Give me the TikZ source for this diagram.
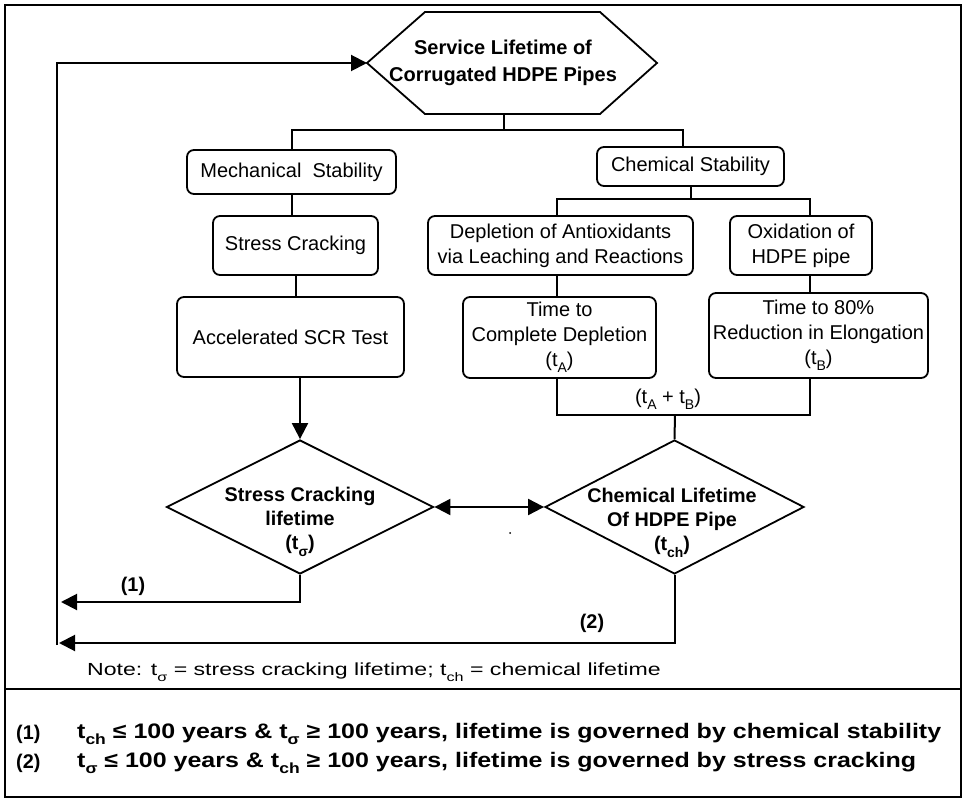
\documentclass[tikz,border=0pt]{standalone}
\usepackage{fontspec}
\setmainfont{Liberation Sans}
\usetikzlibrary{arrows.meta,shapes.geometric}
\newcommand{\tsub}[1]{\raisebox{-0.32em}{\scalebox{0.7}{#1}}}

\begin{document}
\begin{tikzpicture}[x=1pt,y=-1pt]
        \tikzstyle{box}=[draw, rounded corners=7pt, line width=1.8pt, align=center, inner sep=0pt, font=\fontsize{20}{25}\selectfont]
        \tikzstyle{dia}=[diamond, draw, line width=1.8pt, inner sep=0pt]
        \tikzstyle{bold}=[align=center, inner sep=0pt, font=\fontsize{19.8}{24}\selectfont\bfseries]
        \tikzstyle{plain}=[align=center, inner sep=0pt, font=\fontsize{20}{25}\selectfont]
        \tikzstyle{link}=[line width=2pt]
        \tikzstyle{arr}=[line width=2pt, -{Triangle[length=16pt,width=16pt]}]

            \useasboundingbox (0,0) rectangle (967,799);
            \draw[line width=2.2pt] (5,5) rectangle (961,797);
            \draw[line width=2.2pt] (5,689) -- (961,689);

            % top of the chart
            \coordinate (hexL) at (367,63);
            \coordinate (hexB) at (504,114);
            \draw[line width=1.8pt] (hexL) -- (425,12) -- (600,12) -- (657,63) -- (600,114) -- (425,114) -- cycle;
            \node[bold, font=\fontsize{20}{27}\selectfont\bfseries](hex) at (503,63){Service Lifetime of\\Corrugated HDPE Pipes};

            \node[box, minimum width=209pt, minimum height=44pt](mech) at (291.5,172){Mechanical\ \ Stability};
            \node[box, minimum width=187pt, minimum height=39pt](chem) at (690.5,166.5){Chemical Stability};
            \node[box, minimum width=165pt, minimum height=59pt](stress) at (295.5,245.5){Stress Cracking};
            \node[box, minimum width=227pt, minimum height=80pt](scr) at (290.5,337){Accelerated SCR Test};
            \node[box, minimum width=265pt, minimum height=59pt](depl) at (560.5,245.5){Depletion of Antioxidants\\via Leaching and Reactions};
            \node[box, minimum width=142pt, minimum height=59pt](oxid) at (801,245.5){Oxidation of\\HDPE pipe};
            \node[box, minimum width=193pt, minimum height=81pt](tA) at (559.5,337.5){Time to\\Complete Depletion\\(t\tsub{A})};
            \node[box, minimum width=219pt, minimum height=85pt](tB) at (818.5,335.5){Time to 80\%\\Reduction in Elongation\\(t\tsub{B})};
            \node[plain](tAB) at (668,399){(t\tsub{A} + t\tsub{B})};

            % decisions
            \node[dia, minimum width=267pt, minimum height=134pt](d1) at (300,507){};
            \node[dia, minimum width=259pt, minimum height=134pt](d2) at (674.5,507){};
            \node[bold](d1t) at (300,522){Stress Cracking\\lifetime\\(t\tsub{σ})};
            \node[bold](d2t) at (672,523){Chemical Lifetime\\Of HDPE Pipe\\(t\tsub{ch})};
            \node[bold](lab1) at (133,586){(1)};
            \node[bold](lab2) at (592,623){(2)};
            \fill (510,533) circle (1pt);

            \coordinate (brL) at (292,130);
            \coordinate (brR) at (683,130);
            \coordinate (cL) at (557,199);
            \coordinate (cR) at (810,199);
            \coordinate (jn) at (675,415);
            \coordinate (o1) at (61,602);
            \coordinate (o2) at (59,643);
            \coordinate (lp) at (57,645);

            \draw[link] (hexB) -- (hexB |- brL);
            \draw[link] (brL |- mech.north) -- (brL) -- (brR) -- (brR |- chem.north);
            \draw[link] (chem.south) -- (chem.south |- cL);
            \draw[link] (cL |- depl.north) -- (cL) -- (cR) -- (cR |- oxid.north);

            \foreach \from/\to in {mech/stress, stress/scr}
            \draw[link] (\from.south) -- (\from.south |- \to.north);

            \draw[link] (cL |- depl.south) -- (cL |- tA.north);
            \draw[link] (cR |- oxid.south) -- (cR |- tB.north);

            \draw[link] (cL |- tA.south) -- (cL |- jn) -- (cR |- jn) -- (cR |- tB.south);
            \draw[link] (jn) -- (d2.north);
            \draw[arr] (scr.south -| d1) -- (d1.north);
            \draw[arr, {Triangle[length=16pt,width=16pt]}-{Triangle[length=16pt,width=16pt]}] (d1.east) -- (d2.west);

            % way back to the top
            \draw[arr] (d1.south) |- (o1);
            \draw[arr] (d2.south) |- (o2);
            \draw[arr] (lp) |- (hexL);

            % notes
            \node[anchor=west, inner sep=0pt, font=\fontsize{17.5}{20}\selectfont](note) at (87,672){\scalebox{1.32}[1]{Note: t\tsub{σ} = stress cracking lifetime; t\tsub{ch} = chemical lifetime}};
            \node[bold, anchor=west](n1) at (16,734){(1)};
            \node[bold, anchor=west, font=\fontsize{21}{24}\selectfont\bfseries](r1) at (77,734){\scalebox{1.19}[1]{t\tsub{ch} ≤ 100 years \& t\tsub{σ} ≥ 100 years, lifetime is governed by chemical stability}};
            \node[bold, anchor=west](n2) at (16,763){(2)};
            \node[bold, anchor=west, font=\fontsize{21}{24}\selectfont\bfseries](r2) at (77,763){\scalebox{1.19}[1]{t\tsub{σ} ≤ 100 years \& t\tsub{ch} ≥ 100 years, lifetime is governed by stress cracking}};

        \end{tikzpicture}
\end{document}
